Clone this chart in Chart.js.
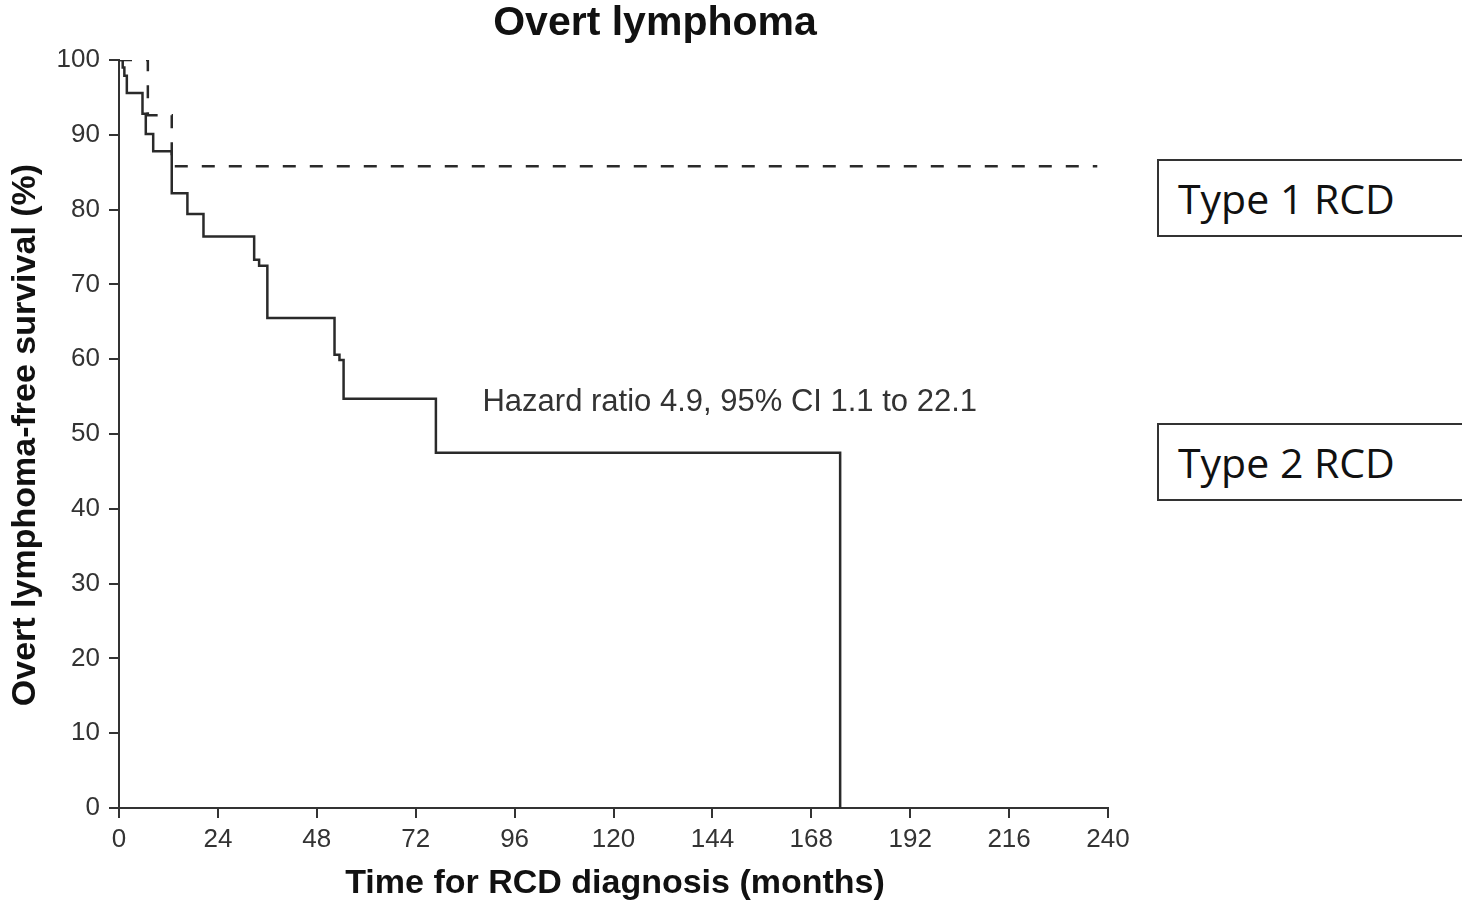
<!DOCTYPE html>
<html>
<head>
<meta charset="utf-8">
<script src="https://cdn.jsdelivr.net/npm/chart.js@4/dist/chart.umd.min.js"></script>
<style>
  html, body { margin: 0; padding: 0; background: #fff; }
  #wrap { position: relative; width: 1462px; height: 903px; overflow: hidden; }
  canvas { position: absolute; left: 0; top: 0; }
  .lg { position: absolute; left: 1157px; width: 330px; height: 78px; border: 2px solid #333; box-sizing: border-box;
        font-family: "Open Sans", "Noto Sans", sans-serif; font-size: 41px; color: #111; line-height: 74px; padding-left: 19px; background: #fff; }
</style>
</head>
<body>
<div id="wrap">
  <canvas id="c" width="1462" height="903"></canvas>
  <div class="lg" style="top:159px;">Type 1 RCD</div>
  <div class="lg" style="top:423px;">Type 2 RCD</div>
</div>
<script>
// ---- Data ----
const type1Times = [0, 7.0, 12.8, 237.4];
const type1Surv  = [100, 92.6, 85.8, 85.8];

const type2Times = [0, 0.9, 1.3, 1.9, 5.7, 6.5, 8.3, 12.8, 16.6, 20.5, 32.8, 34.0, 36.0, 52.3, 53.5, 54.5, 76.9, 175.0];
const type2Surv  = [100, 99.0, 97.9, 95.6, 92.8, 90.1, 87.8, 82.2, 79.4, 76.4, 73.3, 72.5, 65.5, 60.6, 59.9, 54.7, 47.5, 0];

const xTicks = [0, 24, 48, 72, 96, 120, 144, 168, 192, 216, 240];
const yTicks = [0, 10, 20, 30, 40, 50, 60, 70, 80, 90, 100];

const titleText = "Overt lymphoma";
const xTitleText = "Time for RCD diagnosis (months)";
const yTitleText = "Overt lymphoma-free survival (%)";
const noteText = "Hazard ratio 4.9, 95% CI 1.1 to 22.1";

const toPts = (xs, ys) => xs.map((x, i) => ({x: x, y: ys[i]}));

const textPlugin = {
  id: 'texts',
  afterDraw(chart) {
    const ctx = chart.ctx;
    const xs = chart.scales.x, ys = chart.scales.y;
    ctx.save();
    ctx.fillStyle = '#111';
    ctx.textAlign = 'center';
    ctx.textBaseline = 'middle';
    ctx.font = 'bold 41px "Liberation Sans", Arial, sans-serif';
    ctx.fillText(titleText, 655, 24);
    ctx.font = 'bold 34px "Liberation Sans", Arial, sans-serif';
    ctx.fillText(xTitleText, 615, 884);
    ctx.save();
    ctx.translate(26, 435);
    ctx.rotate(-Math.PI / 2);
    ctx.font = 'bold 34px "Liberation Sans", Arial, sans-serif';
    ctx.fillText(yTitleText, 0, 0);
    ctx.restore();
    ctx.fillStyle = '#333';
    ctx.textAlign = 'left';
    ctx.font = '31px "Liberation Sans", Arial, sans-serif';
    ctx.fillText(noteText, xs.getPixelForValue(88.2), ys.getPixelForValue(54.2));
    ctx.restore();
  }
};

const tickFont = { family: '"Liberation Sans", Arial, sans-serif', size: 26 };

new Chart(document.getElementById('c'), {
  type: 'line',
  data: {
    datasets: [
      {
        label: 'Type 1 RCD',
        data: toPts(type1Times, type1Surv),
        borderColor: '#2a2a2a',
        borderWidth: 2.5,
        borderDash: [13, 14],
        stepped: 'before',
        pointRadius: 0,
        fill: false
      },
      {
        label: 'Type 2 RCD',
        data: toPts(type2Times, type2Surv),
        borderColor: '#2a2a2a',
        borderWidth: 2.5,
        stepped: 'before',
        pointRadius: 0,
        fill: false
      }
    ]
  },
  options: {
    responsive: false,
    animation: false,
    layout: { padding: { top: 60, left: 0, right: 354, bottom: 0 } },
    plugins: { legend: { display: false }, title: { display: false }, tooltip: { enabled: false } },
    scales: {
      x: {
        type: 'linear', min: 0, max: 240,
        afterBuildTicks: (s) => { s.ticks = xTicks.map(v => ({value: v})); },
        afterFit: (s) => { s.height = 95; },
        ticks: { font: tickFont, color: '#333', padding: 6 },
        grid: { drawOnChartArea: false, drawTicks: true, tickLength: 10, color: '#333', lineWidth: 2 },
        border: { display: true, color: '#333', width: 2 }
      },
      y: {
        type: 'linear', min: 0, max: 100,
        afterBuildTicks: (s) => { s.ticks = yTicks.map(v => ({value: v})); },
        afterFit: (s) => { s.width = 119; },
        ticks: { font: tickFont, color: '#333', padding: 9 },
        grid: { drawOnChartArea: false, drawTicks: true, tickLength: 10, color: '#333', lineWidth: 2 },
        border: { display: true, color: '#333', width: 2 }
      }
    }
  },
  plugins: [textPlugin]
});
</script>
</body>
</html>
